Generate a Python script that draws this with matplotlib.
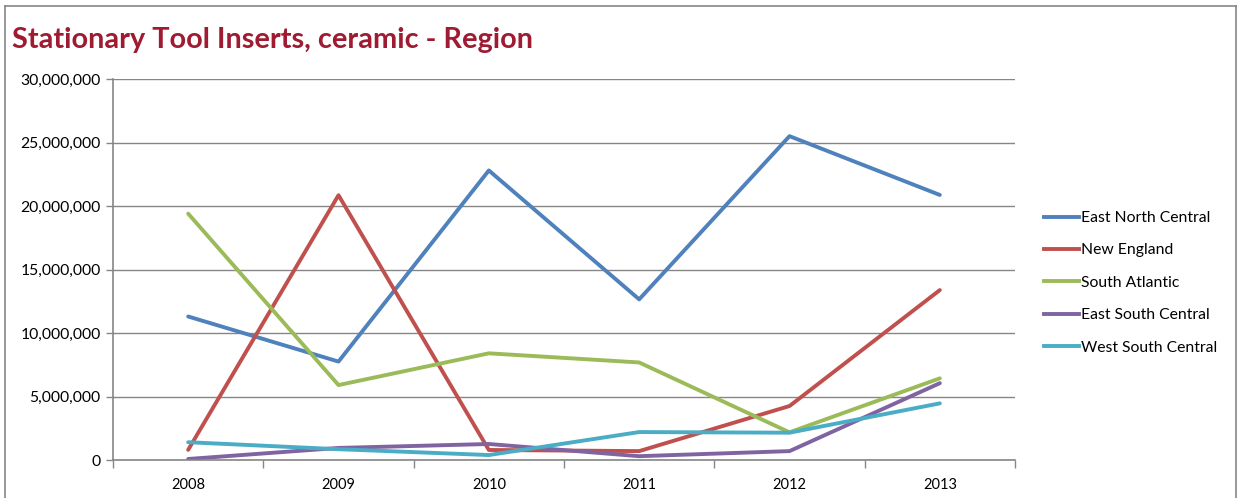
import matplotlib.pyplot as plt
from matplotlib.lines import Line2D

plt.rcParams['font.family'] = ['Lato', 'DejaVu Sans']

years = ['2008', '2009', '2010', '2011', '2012', '2013']
east_north_central = [11300000, 7750000, 22800000, 12650000, 25500000, 20870000]
new_england = [800000, 20850000, 790000, 700000, 4250000, 13380000]
south_atlantic = [19400000, 5900000, 8400000, 7680000, 2180000, 6430000]
east_south_central = [80000, 950000, 1260000, 300000, 700000, 6050000]
west_south_central = [1400000, 850000, 390000, 2200000, 2150000, 4460000]

series = [
    ('East North Central', east_north_central, '#4F81BD'),
    ('New England', new_england, '#C0504D'),
    ('South Atlantic', south_atlantic, '#9BBB59'),
    ('East South Central', east_south_central, '#8064A2'),
    ('West South Central', west_south_central, '#4BACC6'),
]

fig = plt.figure(figsize=(12.41, 4.98), dpi=100)
ax = fig.add_axes([113 / 1241, 1 - 460 / 498, (1015 - 113) / 1241, (460 - 79) / 498])

x = list(range(len(years)))
for name, vals, col in series:
    ax.plot(x, vals, color=col, lw=2.8, label=name, solid_capstyle='round')

ax.set_xlim(-0.5, len(years) - 0.5)
ax.set_ylim(0, 30000000)
ax.set_yticks(range(0, 30000001, 5000000))
ax.yaxis.set_major_formatter(plt.FuncFormatter(lambda v, p: f'{int(v):,}'))
ax.grid(axis='y', color='#868686', lw=1)
ax.set_axisbelow(True)

ax.set_xticks([i - 0.5 for i in range(len(years) + 1)])
ax.set_xticklabels([])
ax.set_xticks(x, minor=True)
ax.set_xticklabels(years, minor=True)
ax.tick_params(axis='x', which='minor', length=0, pad=13, labelsize=10.5, colors='#000000')
ax.tick_params(axis='x', which='major', length=6, color='#868686', width=1)
ax.tick_params(axis='y', length=5, color='#868686', width=1, labelsize=11.3, pad=4)

for s in ['top', 'right']:
    ax.spines[s].set_visible(False)
for s in ['left', 'bottom']:
    ax.spines[s].set_color('#868686')
    ax.spines[s].set_linewidth(1.2)

handles = [Line2D([0], [0], color=c, lw=2.8) for _, _, c in series]
fig.legend(handles, [n for n, _, _ in series], loc='upper left',
           bbox_to_anchor=(1030 / 1241, 1 - 197 / 498), frameon=False,
           fontsize=11.3, handlelength=2.2, handletextpad=0.15, labelspacing=1.17)

fig.text(12 / 1241, 1 - 48 / 498, 'Stationary Tool Inserts, ceramic - Region',
         fontsize=20.8, fontweight='bold', color='#9E1B32', ha='left', va='baseline')

# outer chart border
border = dict(color='#868686', lw=1.2, transform=fig.transFigure)
fig.add_artist(Line2D([5 / 1241, 5 / 1241], [0, 1 - 6 / 498], **border))
fig.add_artist(Line2D([5 / 1241, 1236 / 1241], [1 - 6 / 498, 1 - 6 / 498], **border))
fig.add_artist(Line2D([1236 / 1241, 1236 / 1241], [0, 1 - 6 / 498], **border))

fig.savefig('out.png', dpi=100)
